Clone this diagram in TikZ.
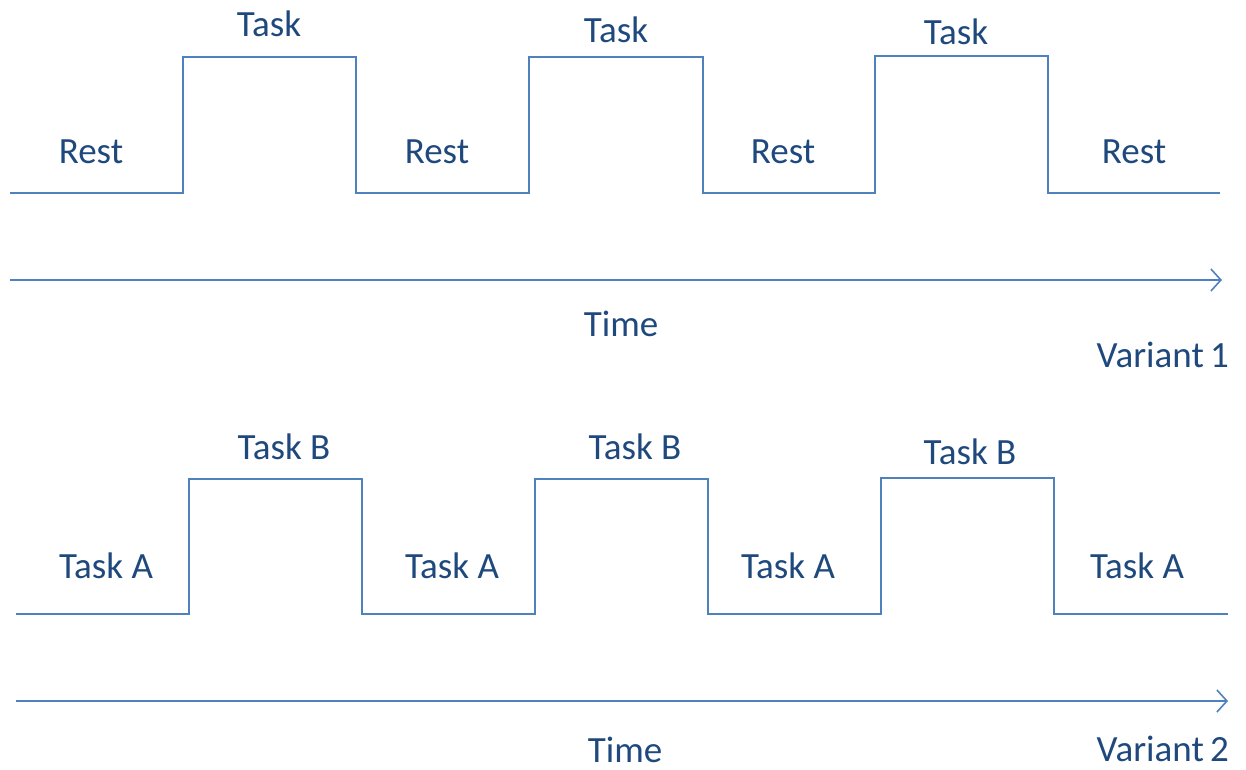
\documentclass[tikz,border=0pt]{standalone}
\usepackage{fontspec}
\setmainfont{Carlito}
\usepackage{xcolor}
\usetikzlibrary{positioning,arrows.meta}
\definecolor{wave}{HTML}{4F81BD}
\definecolor{ink}{HTML}{1F497D}

\begin{document}
\begin{tikzpicture}[x=1pt,y=-1pt,
  every node/.style={font=\fontsize{37}{44}\selectfont,text=ink,inner sep=0pt},
  sig/.style={line width=2pt,wave},
  axis/.style={line width=1.6pt,wave,-{Straight Barb[length=10pt,width=22pt,line width=1.6pt]}}]
  \useasboundingbox (0,0) rectangle (1246,770);
  % variant 1
  \draw[sig] (10,193) -- (183,193) -- (183,57) -- (356,57) -- (356,193) -- (529,193) -- (529,57)
    -- (703,57) -- (703,193) -- (875,193) -- (875,56) -- (1048,56) -- (1048,193) -- (1220,193);
  \node (r1) at (91,152) {Rest};
  \node (r2) at (437,152) {Rest};
  \node (r3) at (783,152) {Rest};
  \node (r4) at (1134,152) {Rest};
  \node (t1) at (269,24) {Task};
  \node (t2) at (616,30) {Task};
  \node (t3) at (956,32) {Task};
  \coordinate (a1) at (10,280);
  \coordinate (b1) at (1222,280);
  \draw[axis] (a1) -- (b1);
  \node (time1) at (621,324) {Time};
  \node[anchor=east] (var1) at (1229,355) {Variant\,1};
  % variant 2
  \draw[sig] (16,614) -- (189,614) -- (189,479) -- (362,479) -- (362,614) -- (535,614) -- (535,479)
    -- (708,479) -- (708,614) -- (881,614) -- (881,478) -- (1054,478) -- (1054,614) -- (1228,614);
  \node (ta1) at (106,566) {Task A};
  \node (ta2) at (452,566) {Task A};
  \node (ta3) at (788,566) {Task A};
  \node (ta4) at (1137,566) {Task A};
  \node (tb1) at (284,447) {Task B};
  \node (tb2) at (635,447) {Task B};
  \node (tb3) at (970,452) {Task B};
  \coordinate (a2) at (16,701);
  \coordinate (b2) at (1228,701);
  \draw[axis] (a2) -- (b2);
  \node (time2) at (625,750) {Time};
  \node[anchor=east] (var2) at (1229,749) {Variant\,2};
\end{tikzpicture}
\end{document}
